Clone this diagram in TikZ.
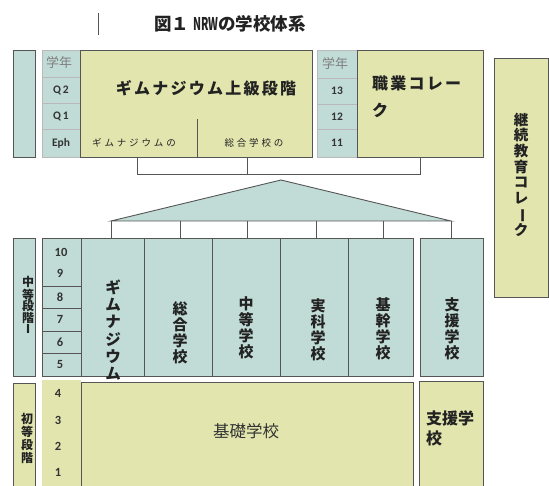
\documentclass[tikz,border=0pt]{standalone}
\usepackage{fontspec}
\usepackage{graphicx}
\setmainfont{Noto Sans CJK JP}
\newfontfamily\jpsp[LetterSpace=14]{Noto Sans CJK JP}
\newfontfamily\jpspw[LetterSpace=30]{Noto Sans CJK JP}
\newfontfamily\lat{Carlito}
\definecolor{tealc}{HTML}{C1DCD6}
\definecolor{yelc}{HTML}{E2E6AE}
\definecolor{bordc}{HTML}{555555}
\definecolor{txtc}{HTML}{222222}
\definecolor{numc}{HTML}{333333}
\newcommand{\cell}[6]{\pgfmathsetmacro\cellw{#5-#3}\pgfmathsetmacro\cellh{#6-#4}%
  \node[#1,anchor=north west,minimum width=\cellw pt,minimum height=\cellh pt] (#2) at (#3,#4) {};}
\newcommand{\vbar}{\rotatebox[origin=c]{-90}{ー}}
\begin{document}
\begin{tikzpicture}[x=1pt,y=-1pt,
  bx/.style={draw=bordc,line width=0.9pt,inner sep=0pt,outer sep=0pt},
  tealbox/.style={bx,fill=tealc},
  yelbox/.style={bx,fill=yelc},
  gcell/.style={draw=gray!55,line width=0.8pt,fill=tealc,inner sep=0pt,outer sep=0pt},
  dcell/.style={bx,fill=tealc},
  plainy/.style={fill=yelc,inner sep=0pt,outer sep=0pt},
  conn/.style={draw=bordc,line width=0.9pt},
  lbl/.style={inner sep=0pt,text=txtc},
  numl/.style={inner sep=0pt,text=numc,font=\lat\bfseries\fontsize{11.5}{13}\selectfont},
  vt/.style={align=center,inner sep=0pt,text=txtc}]
\useasboundingbox (0,0) rectangle (549,486);

% title
\coordinate (bar1) at (98,13);
\coordinate (bar2) at (98,35);
\draw[draw=bordc,line width=1pt] (bar1) -- (bar2);
\node[lbl,font=\bfseries\fontsize{17.5}{20}\selectfont] (title) at (230,24) {図１ \scalebox{0.6}[1]{NRW}の学校体系};

% ---------- top row ----------
\cell{tealbox}{ltop}{13}{50}{35}{157}
\cell{gcell}{g0}{42}{50}{80}{77}
\cell{gcell}{gq2}{42}{77}{80}{103}
\cell{gcell}{gq1}{42}{103}{80}{129}
\cell{gcell}{geph}{42}{129}{80}{157}
\node[lbl,text=gray,font=\fontsize{13}{14}\selectfont] (t0) at (59,63) {学年};
\node[numl] (tq2) at (61,90) {Q\,2};
\node[numl] (tq1) at (61,116) {Q\,1};
\node[numl] (teph) at (61,143) {Eph};

\cell{yelbox}{gym}{80}{50}{312}{157}
\node[lbl,font=\jpsp\bfseries\fontsize{16}{18}\selectfont] (gymt) at (206,88) {ギムナジウム上級段階};
\coordinate (gdiv) at (197,119);
\draw[conn] (gdiv) -- (gdiv |- gym.south);
\node[lbl,font=\jpspw\fontsize{9.5}{11}\selectfont] (gyml) at (134,143) {ギムナジウムの};
\node[lbl,font=\jpspw\fontsize{9.5}{11}\selectfont] (gesl) at (254,143) {総合学校の};

\cell{gcell}{v0}{317}{50}{357}{78}
\cell{gcell}{v13}{317}{78}{357}{104}
\cell{gcell}{v12}{317}{104}{357}{129}
\cell{gcell}{v11}{317}{129}{357}{157}
\node[lbl,text=gray,font=\fontsize{13}{14}\selectfont] (tv0) at (335,64) {学年};
\node[numl] (t13) at (337,91) {13};
\node[numl] (t12) at (337,117) {12};
\node[numl] (t11) at (337,143) {11};

\cell{yelbox}{voc}{357}{50}{483}{157}
\node[lbl,align=left,anchor=west,font=\jpsp\bfseries\fontsize{16}{27}\selectfont] (voct) at (372,97) {職業コレー\\ク};

\cell{yelbox}{cont}{494}{58}{548}{297}
\node[vt,font=\bfseries\fontsize{14.5}{15.6}\selectfont] (contt) at (521,175) {継\\続\\教\\育\\コ\\レ\\\vbar\\ク};

% bracket
\coordinate (h1) at (137,174);
\coordinate (h2) at (247,174);
\coordinate (h3) at (420,174);
\draw[conn] (h1 |- gym.south) -- (h1) -- (h3) -- (h3 |- voc.south);
\draw[conn] (h2 |- gym.south) -- (h2);

% triangle
\coordinate (tl) at (111,221);
\coordinate (ta) at (281,180);
\coordinate (tr) at (451,221);
\draw[conn,fill=tealc] (tl) -- (ta) -- (tr) -- cycle;

% ---------- middle row ----------
\cell{tealbox}{lmid}{13}{238}{35}{376}
\node[vt,font=\bfseries\fontsize{12}{11.5}\selectfont] (lmidt) at (28,305) {中\\等\\段\\階\\Ⅰ};
\cell{dcell}{m109}{42}{238}{81}{286}
\cell{dcell}{m8}{42}{286}{81}{308}
\cell{dcell}{m7}{42}{308}{81}{331}
\cell{dcell}{m6}{42}{331}{81}{353}
\cell{dcell}{m5}{42}{353}{81}{376}
\node[numl,font=\lat\bfseries\fontsize{12.5}{14}\selectfont] (n10) at (61,252) {10};
\node[numl,font=\lat\bfseries\fontsize{12.5}{14}\selectfont] (n9) at (60,273) {9};
\node[numl,font=\lat\bfseries\fontsize{12.5}{14}\selectfont] (n8) at (60,297) {8};
\node[numl,font=\lat\bfseries\fontsize{12.5}{14}\selectfont] (n7) at (60,319) {7};
\node[numl,font=\lat\bfseries\fontsize{12.5}{14}\selectfont] (n6) at (60,342) {6};
\node[numl,font=\lat\bfseries\fontsize{12.5}{14}\selectfont] (n5) at (60,364) {5};

\cell{tealbox}{sgym}{81}{238}{144}{376}
\cell{tealbox}{sges}{144}{238}{212}{376}
\cell{tealbox}{smit}{212}{238}{280}{376}
\cell{tealbox}{sreal}{280}{238}{348}{376}
\cell{tealbox}{shaupt}{348}{238}{413}{376}
\cell{tealbox}{sfoer}{420}{238}{483}{376}

\node[vt,font=\bfseries\fontsize{15.5}{17.2}\selectfont] (sgymt) at (113,330) {ギ\\ム\\ナ\\ジ\\ウ\\ム};
\node[vt,font=\bfseries\fontsize{15}{16}\selectfont] (sgest) at (180,333) {総\\合\\学\\校};
\node[vt,font=\bfseries\fontsize{15}{16}\selectfont] (smitt) at (246,328) {中\\等\\学\\校};
\node[vt,font=\bfseries\fontsize{15}{16}\selectfont] (srealt) at (318,330) {実\\科\\学\\校};
\node[vt,font=\bfseries\fontsize{15}{16}\selectfont] (shauptt) at (383,329) {基\\幹\\学\\校};
\node[vt,font=\bfseries\fontsize{15}{16}\selectfont] (sfoert) at (452,329) {支\\援\\学\\校};

% verticals from triangle
\coordinate (v1) at (111,221);
\coordinate (v2) at (180,221);
\coordinate (v3) at (247,221);
\coordinate (v4) at (316,221);
\coordinate (v5) at (383,221);
\coordinate (v6) at (451,221);
\draw[conn] (v1) -- (v1 |- sgym.north);
\draw[conn] (v2) -- (v2 |- sges.north);
\draw[conn] (v3) -- (v3 |- smit.north);
\draw[conn] (v4) -- (v4 |- sreal.north);
\draw[conn] (v5) -- (v5 |- shaupt.north);
\draw[conn] (v6) -- (v6 |- sfoer.north);

% ---------- bottom row ----------
\cell{yelbox}{lbot}{13}{383}{35}{495}
\node[vt,font=\bfseries\fontsize{12}{13}\selectfont] (lbott) at (27,438) {初\\等\\段\\階};
\cell{plainy}{bcol}{42}{380}{81}{495}
\node[numl,font=\lat\bfseries\fontsize{12.5}{14}\selectfont] (n4) at (58,393) {4};
\node[numl,font=\lat\bfseries\fontsize{12.5}{14}\selectfont] (n3) at (58,420) {3};
\node[numl,font=\lat\bfseries\fontsize{12.5}{14}\selectfont] (n2) at (58,446) {2};
\node[numl,font=\lat\bfseries\fontsize{12.5}{14}\selectfont] (n1) at (58,472) {1};
\cell{yelbox}{kiso}{81}{382}{413}{495}
\node[lbl,text=numc,font=\fontsize{16.5}{18}\selectfont] (kisot) at (246,431) {基礎学校};
\cell{yelbox}{bfoer}{419}{381}{483}{495}
\node[lbl,align=left,anchor=west,font=\bfseries\fontsize{16}{20}\selectfont] (bfoert) at (426,428) {支援学\\校};
\end{tikzpicture}
\end{document}
